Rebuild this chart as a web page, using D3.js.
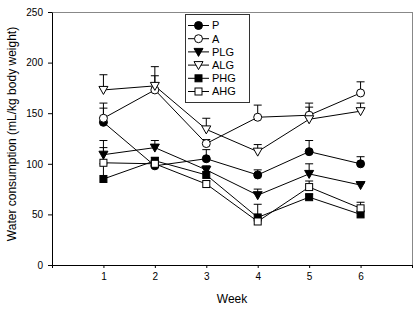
<!DOCTYPE html>
<html><head><meta charset="utf-8">
<script src="https://cdn.jsdelivr.net/npm/d3@7"></script>
<style>body{margin:0;background:#fff}svg{display:block}text{font-family:Arial,"Liberation Sans",sans-serif;fill:#000}</style>
</head><body>
<svg id="c" width="417" height="310"></svg>
<script>
const weeks = [1, 2, 3, 4, 5, 6];
const seriesNames = ["P", "A", "PLG", "ALG", "PHG", "AHG"];
const P   = [141, 98, 105, 89, 112, 100];
const P_err = [14, 5, 9, 5, 11, 7];
const A   = [145, 173, 120, 146, 148, 170];
const A_err = [15, 14, 4, 12, 12, 11];
const PLG = [109, 116, 94, 69, 90, 79];
const PLG_err = [14, 7, 4, 6, 10, 2];
const ALG = [173, 177, 134, 112, 144, 152];
const ALG_err = [15, 19, 11, 7, 12, 8];
const PHG = [85, 103, 89, 47, 67, 50];
const PHG_err = [15, 3, 3, 13, 3, 3];
const AHG = [101, 100, 80, 43, 77, 56];
const AHG_err = [15, 3, 3, 3, 6, 6];
const yTicks = [0, 50, 100, 150, 200, 250];
const xLabel = "Week";
const yLabel = "Water consumption (mL/kg body weight)";

const series = [
  {name: "P", vals: P, err: P_err, shape: "circle", fill: "#000"},
  {name: "A", vals: A, err: A_err, shape: "circle", fill: "#fff"},
  {name: "PLG", vals: PLG, err: PLG_err, shape: "tri", fill: "#000"},
  {name: "ALG", vals: ALG, err: ALG_err, shape: "tri", fill: "#fff"},
  {name: "PHG", vals: PHG, err: PHG_err, shape: "square", fill: "#000"},
  {name: "AHG", vals: AHG, err: AHG_err, shape: "square", fill: "#fff"}
];

const svg = d3.select("#c");
const L = 52, R = 412, T = 12, B = 265;
const x = d3.scaleLinear().domain([0, 7]).range([L, R]);
const y = d3.scaleLinear().domain([0, 250]).range([B, T]);

// frame (top/right grey)
svg.append("line").attr("x1", L).attr("x2", R).attr("y1", T + 0.5).attr("y2", T + 0.5).attr("stroke", "#888");
svg.append("line").attr("x1", R + 0.5).attr("x2", R + 0.5).attr("y1", T).attr("y2", B).attr("stroke", "#888");

const xAxis = svg.append("g").attr("transform", `translate(0,${B})`)
  .call(d3.axisBottom(x).tickValues([0, 1, 2, 3, 4, 5, 6, 7]).tickSizeInner(3).tickSizeOuter(0)
    .tickFormat(d => (d >= 1 && d <= 6) ? d : ""));
xAxis.selectAll("text").attr("font-size", 10).attr("dy", "0.71em").attr("y", 8);
const yAxis = svg.append("g").attr("transform", `translate(${L},0)`)
  .call(d3.axisLeft(y).tickValues(yTicks).tickSizeInner(4).tickSizeOuter(0));
yAxis.selectAll("text").attr("font-size", 10).attr("x", -9);
svg.selectAll(".domain, .tick line").attr("stroke", "#000");

svg.append("text").attr("x", 232).attr("y", 303).attr("text-anchor", "middle").attr("font-size", 12).text(xLabel);
svg.append("text").attr("transform", "translate(16,134) rotate(-90)").attr("text-anchor", "middle").attr("font-size", 12).text(yLabel);

function marker(g, shape, fill, cx, cy) {
  if (shape === "circle") {
    g.append("circle").attr("cx", cx).attr("cy", cy).attr("r", 4).attr("fill", fill).attr("stroke", "#000");
  } else if (shape === "square") {
    g.append("rect").attr("x", cx - 3.5).attr("y", cy - 3.5).attr("width", 7).attr("height", 7).attr("fill", fill).attr("stroke", "#000");
  } else {
    g.append("path").attr("d", `M${cx - 4.5},${cy - 3.5}L${cx + 4.5},${cy - 3.5}L${cx},${cy + 4.5}Z`).attr("fill", fill).attr("stroke", "#000");
  }
}

const line = d3.line().x((d, i) => x(weeks[i])).y(d => y(d));
series.forEach(s => {
  svg.append("path").attr("d", line(s.vals)).attr("fill", "none").attr("stroke", "#000").attr("stroke-width", 1);
});
series.forEach(s => {
  s.vals.forEach((v, i) => {
    const cx = x(weeks[i]);
    svg.append("line").attr("x1", cx).attr("x2", cx).attr("y1", y(v)).attr("y2", y(v + s.err[i])).attr("stroke", "#000");
    svg.append("line").attr("x1", cx - 4).attr("x2", cx + 4).attr("y1", y(v + s.err[i])).attr("y2", y(v + s.err[i])).attr("stroke", "#000");
  });
});
series.forEach(s => {
  const g = svg.append("g");
  s.vals.forEach((v, i) => marker(g, s.shape, s.fill, x(weeks[i]), y(v)));
});

// legend
const lg = svg.append("g");
lg.append("rect").attr("x", 185.5).attr("y", 14.5).attr("width", 64).attr("height", 88).attr("fill", "#fff").attr("stroke", "#333");
series.forEach((s, i) => {
  const cy = 25.5 + i * 13.2;
  lg.append("line").attr("x1", 188).attr("x2", 209).attr("y1", cy).attr("y2", cy).attr("stroke", "#000");
  marker(lg, s.shape, s.fill, 198.5, cy);
  lg.append("text").attr("x", 212).attr("y", cy).attr("dy", "0.35em").attr("font-size", 11).text(s.name);
});
</script>
</body></html>
